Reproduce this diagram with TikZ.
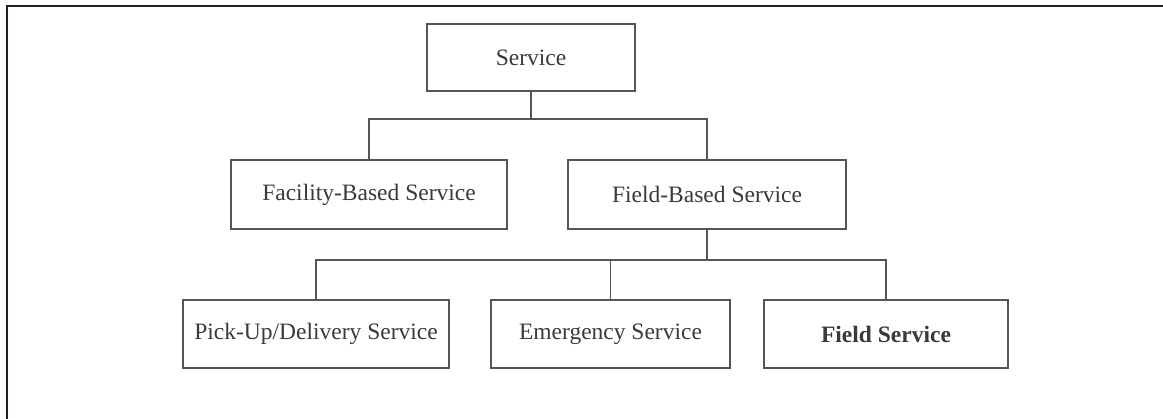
\documentclass[tikz,border=0pt]{standalone}
\usepackage{fontspec}
\setmainfont{Liberation Serif}
\definecolor{framec}{HTML}{231F20}
\definecolor{boxc}{HTML}{555555}
\definecolor{txtc}{HTML}{3A3A3A}
\tikzset{
  boxnode/.style={draw=boxc, line width=1.5pt, minimum height=68pt, inner sep=0pt,
    font=\fontsize{23.5}{26}\selectfont, text=txtc},
  conn/.style={draw=boxc, line width=1.5pt},
}
\begin{document}
\begin{tikzpicture}[x=1pt,y=-1pt]
\useasboundingbox (0,0) rectangle (1163,419);
\fill[white] (0,0) rectangle (1163,419);
\draw[framec, line width=2pt] (7,425) -- (7,6) -- (1170,6);

\node[boxnode, minimum width=208pt, minimum height=67pt] (svc) at (531,57.5) {Service};
\node[boxnode, minimum width=276pt, minimum height=69pt] (fac) at (369,194.5) {Facility-Based Service};
\node[boxnode, minimum width=278pt, minimum height=69pt] (fbs) at (707,194.5) {Field-Based Service};
\node[boxnode, minimum width=266pt] (pick) at (316,334) {Pick-Up/Delivery Service};
\node[boxnode, minimum width=239pt] (emer) at (610.5,334) {Emergency Service};
\node[boxnode, minimum width=244pt] (fsv) at (886,334) {\bfseries Field Service};

\coordinate (j1) at (531,119);
\coordinate (j2) at (707,260);

\draw[conn] (svc.south) -- (j1);
\draw[conn] (fac.north) |- (j1);
\draw[conn] (fbs.north) |- (j1);
\draw[conn] (fbs.south) -- (j2);
\draw[conn] (pick.north) |- (j2);
\draw[conn] (emer.north) |- (j2);
\draw[conn] (fsv.north) |- (j2);
\end{tikzpicture}
\end{document}
